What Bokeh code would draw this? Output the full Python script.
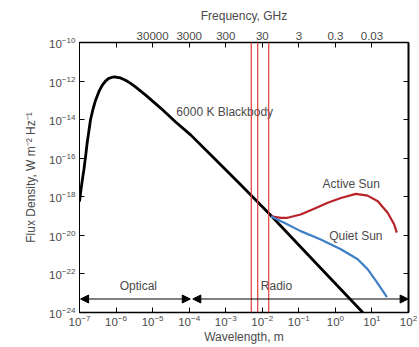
from bokeh.plotting import figure
from bokeh.models import (Range1d, LogAxis, FixedTicker, CustomJSTickFormatter,
                          Arrow, NormalHead, Span, LogTickFormatter)
from bokeh.core.properties import value
from bokeh.embed import file_html
from bokeh.resources import INLINE

# ---------------- data (log10 values) ----------------
# 6000 K blackbody: log10 wavelength [m], log10 flux density [W m^-2 Hz^-1]
bb_log_wl = [-7.00, -6.97, -6.92, -6.88, -6.83, -6.79, -6.74, -6.70, -6.63, -6.56,
             -6.47, -6.38, -6.29, -6.20, -6.10, -6.01, -5.88, -5.74, -5.60, -5.47,
             -5.19, -4.78, -4.37, -3.96, -3.33, -2.59, -1.79, -0.60, 0.75]
bb_log_flux = [-18.25, -17.78, -17.10, -16.60, -15.85, -15.20, -14.55, -14.02, -13.45, -12.99,
               -12.55, -12.22, -12.00, -11.86, -11.80, -11.79, -11.84, -11.96, -12.12, -12.30,
               -12.73, -13.40, -14.12, -14.79, -15.98, -17.37, -18.92, -21.30, -24.00]

# Active Sun (radio)
active_log_wl = [-1.76, -1.49, -1.31, -0.95, -0.58, -0.21, 0.15, 0.56, 0.88, 1.16, 1.43, 1.61, 1.68]
active_log_flux = [-19.02, -19.09, -19.09, -18.92, -18.62, -18.31, -18.06, -17.85, -17.94,
                   -18.23, -18.83, -19.44, -19.86]

# Quiet Sun (radio)
quiet_log_wl = [-1.76, -1.40, -0.95, -0.40, 0.15, 0.61, 0.88, 1.11, 1.29, 1.41]
quiet_log_flux = [-19.02, -19.35, -19.78, -20.21, -20.72, -21.24, -21.75, -22.36, -22.87, -23.20]

# Red vertical lines (wavelength, m)
marker_wl = [0.005, 0.0075, 0.015]

# Axis ticks
x_ticks = [1e-7, 1e-6, 1e-5, 1e-4, 1e-3, 1e-2, 1e-1, 1e0, 1e1, 1e2]
y_ticks = [1e-24, 1e-22, 1e-20, 1e-18, 1e-16, 1e-14, 1e-12, 1e-10]
top_ticks = [1e-6, 1e-5, 1e-4, 1e-3, 1e-2, 1e-1, 1e0, 1e1]
freq_labels = ["", "30000", "3000", "300", "30", "3", "0.3", "0.03"]

# Band arrows (log10 wavelength) at log10 flux
optical_band = [-6.97, -3.97]
radio_band = [-3.90, 1.99]
band_log_flux = -23.3

# ---------------- figure ----------------
FONT = "Liberation Sans"
GRAY = "#4a4a4a"

p = figure(width=419, height=347, x_axis_type="log", y_axis_type="log",
           x_range=Range1d(1e-7, 1e2), y_range=Range1d(1e-24, 1e-10),
           output_backend="svg", toolbar_location=None,
           min_border_left=79, min_border_right=11, min_border_top=42, min_border_bottom=35)
p.grid.visible = False
p.outline_line_color = "black"
p.background_fill_color = "white"
p.border_fill_color = "white"


def style_axis(ax, lw=1.0):
    ax.major_tick_in = 5
    ax.major_tick_out = 0
    ax.minor_tick_line_color = None
    ax.axis_line_color = "black"
    ax.axis_line_width = lw
    ax.major_tick_line_color = "black"
    ax.major_label_text_font = FONT
    ax.major_label_text_font_size = "11.5px"
    ax.major_label_text_color = GRAY
    ax.axis_label_text_font = FONT
    ax.axis_label_text_font_size = "12px"
    ax.axis_label_text_font_style = "normal"
    ax.axis_label_text_color = GRAY

xb = p.xaxis[0]
xb.ticker = FixedTicker(ticks=x_ticks)
xb.formatter = LogTickFormatter(min_exponent=0)
xb.axis_label = "Wavelength, m"
style_axis(xb, 1.5)
xb.major_label_standoff = 2
xb.axis_label_standoff = 1

yl = p.yaxis[0]
yl.ticker = FixedTicker(ticks=y_ticks)
yl.formatter = LogTickFormatter(min_exponent=0)
yl.axis_label = "Flux Density, W m\u207b\u00b2 Hz\u207b\u00b9"
style_axis(yl, 1.0)
yl.major_label_standoff = 4
yl.axis_label_standoff = 8

top = LogAxis(ticker=FixedTicker(ticks=top_ticks),
              formatter=CustomJSTickFormatter(args=dict(labels=freq_labels), code="""
const e = Math.round(Math.log10(tick));
const s = labels[e + 6];
return (s === undefined) ? '' : s;
"""), axis_label="Frequency, GHz")
style_axis(top, 1.5)
top.major_label_standoff = 3
top.axis_label_standoff = 6
p.add_layout(top, "above")

right = LogAxis(ticker=FixedTicker(ticks=y_ticks))
style_axis(right, 2.0)
right.major_label_text_font_size = "1px"
right.major_label_text_alpha = 0
right.major_label_standoff = 0
p.add_layout(right, "right")

# red vertical lines
for wl in marker_wl:
    p.add_layout(Span(location=wl, dimension="height", line_color="#e23a3a", line_width=1.2))

# curves
p.line([10 ** v for v in bb_log_wl], [10 ** v for v in bb_log_flux],
       line_color="black", line_width=2.8, line_join="round")
p.line([10 ** v for v in active_log_wl], [10 ** v for v in active_log_flux],
       line_color="#b8232a", line_width=2.2, line_join="round")
p.line([10 ** v for v in quiet_log_wl], [10 ** v for v in quiet_log_flux],
       line_color="#3f7fc6", line_width=2.2, line_join="round")

# band arrows
for band in (optical_band, radio_band):
    p.add_layout(Arrow(x_start=10 ** band[0], x_end=10 ** band[1],
                       y_start=10 ** band_log_flux, y_end=10 ** band_log_flux,
                       line_color="black", line_width=1,
                       start=NormalHead(size=8, fill_color="black", line_color="black"),
                       end=NormalHead(size=8, fill_color="black", line_color="black")))

# labels
lab_x = [10 ** -4.35, 10 ** -0.35, 10 ** -0.17, 10 ** -5.39, 10 ** -2.04]
lab_y = [10 ** -13.6, 10 ** -17.32, 10 ** -20.04, 10 ** -22.61, 10 ** -22.61]
lab_t = ["6000 K Blackbody", "Active Sun", "Quiet Sun", "Optical", "Radio"]
lab_align = ["left", "left", "left", "center", "left"]
p.text(x=lab_x, y=lab_y, text=lab_t, text_align=lab_align, text_baseline="middle",
       text_font=value(FONT), text_font_size="12px", text_color=GRAY)

open("out.html", "w").write(file_html(p, INLINE))
